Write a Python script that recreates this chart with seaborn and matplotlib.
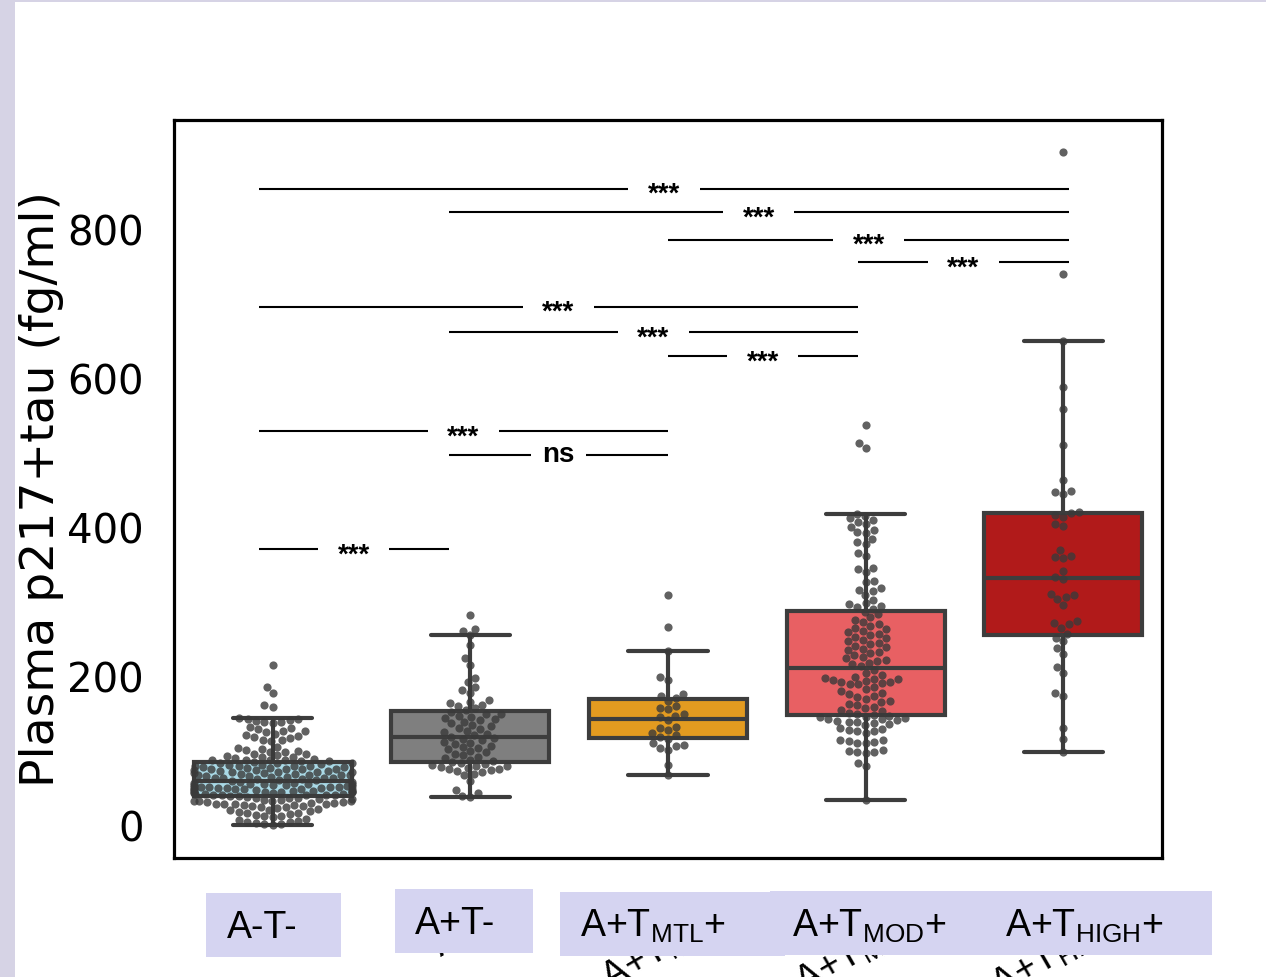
import warnings
warnings.filterwarnings("ignore")
import numpy as np
import pandas as pd
import matplotlib
matplotlib.use("Agg")
import matplotlib.pyplot as plt
import seaborn as sns
from matplotlib.patches import Rectangle

# ---------------- data ----------------
groups = ["A-T-", "A+T-", "A+TMTL+", "A+TMOD+", "A+THIGH+"]
tick_labels = ["A-T-", "A+T-", r"A+T$_{\mathrm{MTL}}$+",
               r"A+T$_{\mathrm{MOD}}$+", r"A+T$_{\mathrm{HIGH}}$+"]

vals_neg = [1, 2, 3, 4, 5, 6, 7, 8, 10, 12, 13, 14, 15, 16, 17, 18, 19, 20, 21, 22,
            23, 24, 25, 26, 27, 27, 28, 28, 29, 29, 30, 30, 31, 31, 32, 32, 33, 33,
            34, 34, 35, 35, 36, 36, 37, 37, 38, 39,
            40, 40, 41, 41, 41, 42, 42, 43, 43, 43, 44, 44, 45, 45, 45, 46, 46, 47,
            47, 47, 48, 48, 49, 49, 49, 50, 50, 51, 51, 51, 52, 52, 53, 53, 53, 54,
            54, 55, 55, 55, 56, 56, 57, 57, 58, 58, 59, 59,
            61, 62, 62, 63, 63, 64, 64, 65, 65, 66, 66, 67, 67, 68, 68, 69, 69, 70,
            70, 71, 71, 72, 72, 73, 73, 74, 74, 75, 75, 76, 76, 77, 77, 78, 78, 79,
            79, 80, 80, 81, 81, 82, 82, 83, 84, 84, 85, 86,
            87, 87, 88, 88, 89, 89, 90, 91, 92, 93, 94, 95, 96, 97, 99, 100, 101, 102,
            104, 105, 106, 114, 115, 116, 118, 119, 121, 122, 124, 126, 127, 128, 130,
            131, 133, 138, 139, 140, 141, 142, 143, 144, 145, 160, 162, 179, 187, 216]

vals_apos_tneg = [39, 40, 44, 48, 60, 68, 70, 72, 74, 75, 76, 77, 78, 79, 80, 81, 82, 83, 84,
                  86, 87, 89, 91, 93, 95, 97, 99, 101, 103, 105, 106, 108, 110, 112, 113,
                  115, 117, 118,
                  120, 122, 124, 126, 128, 130, 132, 134, 136, 138, 140, 142, 143, 145,
                  147, 148, 150, 151, 153,
                  156, 158, 161, 163, 165, 167, 169, 178, 182, 187, 193, 199, 216, 225,
                  243, 256, 262, 265, 283]

vals_mtl = [68, 82, 102, 105, 107, 109, 111, 117, 120, 122, 125, 129, 131, 133, 142,
            146, 148, 150, 157, 159, 161, 168, 172, 174, 177, 196, 200, 235, 267, 310]

vals_mod = [35, 80, 84, 98, 99, 100, 101, 102, 111, 112, 113, 114, 115, 116, 125, 127,
            128, 129, 130, 131, 136, 137, 138, 139, 140, 141, 142, 143, 144, 145, 146,
            147, 148,
            149, 150, 152, 154, 156, 158, 160, 162, 164, 166, 168, 171, 173, 175, 177,
            179, 181, 184, 187, 190, 191, 192, 193, 194, 195, 196, 197, 198, 199, 200,
            203, 206, 209,
            215, 217, 219, 221, 223, 225, 227, 229, 232, 234, 236, 238, 240, 242, 244,
            246, 248, 250, 252, 254, 256, 258, 260, 262, 264, 266, 268, 271, 274, 277,
            280, 284, 288,
            292, 294, 296, 298, 299, 304, 310, 315, 317, 320, 327, 329, 341, 345, 347,
            362, 366, 378, 381, 385, 393, 395, 397, 402, 405, 408, 411, 413, 416, 419,
            507, 514, 538]

vals_high = [99, 117, 132, 175, 179, 206, 214, 231, 239, 248, 253, 258, 266, 271, 273,
             275, 297, 305, 308, 310, 312, 331, 334, 342, 360, 361, 363, 370, 403, 406,
             415, 418, 420, 422, 446, 448, 450, 464, 511, 560, 589, 651, 741, 905]

box_colors = ["#a9d9e6", "#7f7f7f", "#e39b20", "#e86063", "#b11a1a"]

# significance annotations: (left group, right group), height, label
sig_pairs = [(0, 4), (1, 4), (2, 4), (3, 4), (0, 3), (1, 3), (2, 3), (0, 2), (1, 2), (0, 1)]
sig_heights = [856, 824, 787, 757, 697, 663, 631, 530, 498, 372]
sig_labels = ["***", "***", "***", "***", "***", "***", "***", "***", "ns", "***"]

all_vals = [vals_neg, vals_apos_tneg, vals_mtl, vals_mod, vals_high]
df = pd.DataFrame({
    "group": np.concatenate([[g] * len(v) for g, v in zip(groups, all_vals)]),
    "value": np.concatenate([np.asarray(v, float) for v in all_vals]),
})

# ---------------- style ----------------
sns.set_theme(style="white")
plt.rcParams["font.family"] = ["DejaVu Sans"]
plt.rcParams["mathtext.fontset"] = "custom"
plt.rcParams["mathtext.rm"] = "Liberation Sans"
plt.rcParams["mathtext.it"] = "Liberation Sans:italic"
plt.rcParams["mathtext.bf"] = "Liberation Sans:bold"

W, H = 1266, 977
fig = plt.figure(figsize=(W / 100, H / 100), dpi=100)
fig.patch.set_facecolor("white")
ax = fig.add_axes([174 / W, (H - 858) / H, (1162 - 174) / W, (858 - 120) / H])

sns.boxplot(data=df, x="group", y="value", order=groups, hue="group",
            hue_order=groups, palette=box_colors, legend=False, saturation=1,
            showfliers=False, width=0.8, linewidth=3, linecolor="#3d3d3d", ax=ax)
sns.swarmplot(data=df, x="group", y="value", order=groups, color="#3a3a3a",
              alpha=0.8, size=5.9, linewidth=0, ax=ax)

ax.set_xlim(-0.5, 4.5)
ax.set_ylim(-43, 948)
ax.set_yticks([0, 200, 400, 600, 800])
ax.set_xticks(range(len(groups)))
ax.set_xticklabels(tick_labels, rotation=30, fontsize=27, family="Liberation Sans")
for t in ax.get_yticklabels():
    t.set_fontsize(29)
ax.set_xlabel("")
ax.set_ylabel("Plasma p217+tau (fg/ml)", fontsize=34, labelpad=2, color="black")
for s in ax.spines.values():
    s.set_visible(True)
    s.set_color("black")
    s.set_linewidth(2.3)
ax.tick_params(axis="both", which="major", length=14, width=2.2, color="black",
               labelcolor="black", direction="out")
ax.tick_params(axis="y", pad=8)
ax.tick_params(axis="x", pad=11)

# significance bars
anchors = [-0.07, 0.89, 2.0, 2.96, 4.03]
for (i, j), h, lab in zip(sig_pairs, sig_heights, sig_labels):
    x0, x1 = anchors[i], anchors[j]
    xc = (x0 + x1) / 2
    gap = 0.18 if lab == "***" else 0.14
    ax.plot([x0, xc - gap], [h, h], color="black", lw=1.5, solid_capstyle="butt", zorder=5)
    ax.plot([xc + gap, x1], [h, h], color="black", lw=1.5, solid_capstyle="butt", zorder=5)
    off = -9.5 if lab == "***" else -5
    ax.annotate(lab, xy=(xc, h), xytext=(0, off), textcoords="offset points",
                ha="center", va="baseline", fontsize=20, fontweight="bold",
                family="Liberation Sans", color="black", zorder=6)

# lavender label patches over the x tick labels
xt = ax.get_xaxis_transform()
lav = "#d5d4f1"
box_left = [-0.338, -0.382, -0.547, -0.484, -0.370]
box_right = [0.345, 0.317, 0.592, 1.118, 0.753]
box_top = [-0.0474, -0.0420, -0.0461, -0.0447, -0.0447]
box_bot = [-0.1341, -0.1287, -0.1328, -0.1314, -0.1314]
text_left = [-0.232, -0.280, -0.445, -0.370, -0.295]
text_base = [-0.1084, -0.1030, -0.1070, -0.1070, -0.1070]
for k in range(len(groups)):
    ax.add_patch(Rectangle((k + box_left[k], box_bot[k]), box_right[k] - box_left[k],
                           box_top[k] - box_bot[k], transform=xt, facecolor=lav,
                           edgecolor="none", clip_on=False, zorder=20))
for k in range(len(groups)):
    ax.text(k + text_left[k], text_base[k], tick_labels[k], transform=xt,
            ha="left", va="baseline", fontsize=27, family="Liberation Sans",
            color="black", clip_on=False, zorder=21)

# screenshot border strips
border = "#d6d3e5"
fig.add_artist(Rectangle((0, 0), 15 / W, 1, transform=fig.transFigure,
                         facecolor=border, edgecolor="none", zorder=30))
fig.add_artist(Rectangle((0, 1 - 2 / H), 1, 2 / H, transform=fig.transFigure,
                         facecolor=border, edgecolor="none", zorder=30))

fig.savefig("out.png", dpi=100)
